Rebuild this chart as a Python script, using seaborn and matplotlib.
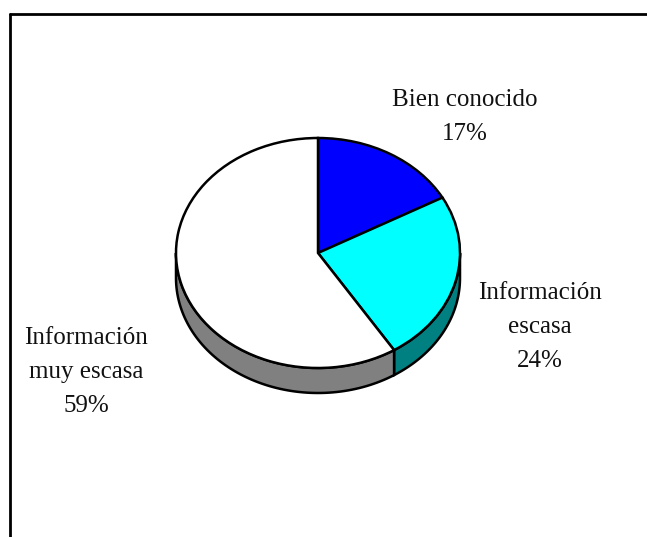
import numpy as np
import matplotlib
matplotlib.use("Agg")
import matplotlib.pyplot as plt
from matplotlib.lines import Line2D
from matplotlib.patches import Polygon
import seaborn as sns

# Survey categories and their shares (%)
categories = ["Bien conocido", "Información\nescasa", "Información\nmuy escasa"]
shares = [17, 24, 59]

# Face colours of the top of each slice and of its visible side wall
top_colors = ["#0000ff", "#00ffff", "#ffffff"]
side_colors = ["#000080", "#008080", "#808080"]

sns.set_theme(style="white")
plt.rcParams["font.family"] = ["Liberation Serif", "DejaVu Serif"]

W, H, DPI = 647, 537, 100
fig = plt.figure(figsize=(W / DPI, H / DPI), dpi=DPI)
ax = fig.add_axes([0, 0, 1, 1])

# Pie geometry in pixels: centre, horizontal / vertical radius, wall depth
cx, cy = 318, 253
rx, ry = 142, 115
depth = 25 / ry

wedges, _ = ax.pie(shares, colors=top_colors, startangle=90, counterclock=False,
                   radius=1.0, center=(0, 0),
                   wedgeprops=dict(edgecolor="black", linewidth=1.8))
for w in wedges:
    w.set_zorder(3)

# Data units: x in radii of rx pixels, y in radii of ry pixels
ax.set_aspect("auto")
ax.set_xlim(-cx / rx, (W - cx) / rx)
ax.set_ylim((cy - H) / ry, cy / ry)
ax.axis("off")

# Side walls of the tilted pie, drawn only on the front (lower) half
fracs = np.array(shares, dtype=float) / sum(shares)
start = 90.0
for frac, col in zip(fracs, side_colors):
    end = start - frac * 360.0
    segs = []
    for shift in (0.0, -360.0, 360.0):
        s0, s1 = max(end + shift, -180.0), min(start + shift, 0.0)
        if s1 > s0:
            segs.append((s0, s1))
    for s0, s1 in segs:
        t = np.radians(np.linspace(s1, s0, 80))
        top = np.column_stack([np.cos(t), np.sin(t)])
        bot = np.column_stack([np.cos(t[::-1]), np.sin(t[::-1]) - depth])
        poly = Polygon(np.vstack([top, bot]), closed=True, facecolor=col,
                       edgecolor="black", linewidth=1.8, zorder=2)
        ax.add_patch(poly)
    start = end

# Category labels with percentages (pixel positions of each label block)
label_pos = [(465, 117), (540, 327), (86, 372)]
for name, val, (px, py) in zip(categories, shares, label_pos):
    ax.text((px - cx) / rx, (cy - py) / ry, f"{name}\n{val}%",
            ha="center", va="center", fontsize=18, color="#111111",
            linespacing=1.7, zorder=5)

# Chart frame (top and left edges)
fig.add_artist(Line2D([10 / W, 1.0], [1 - 14 / H, 1 - 14 / H],
                      transform=fig.transFigure, color="black", linewidth=2))
fig.add_artist(Line2D([10 / W, 10 / W], [0.0, 1 - 14 / H],
                      transform=fig.transFigure, color="black", linewidth=2))

fig.savefig("out.png", dpi=DPI)
